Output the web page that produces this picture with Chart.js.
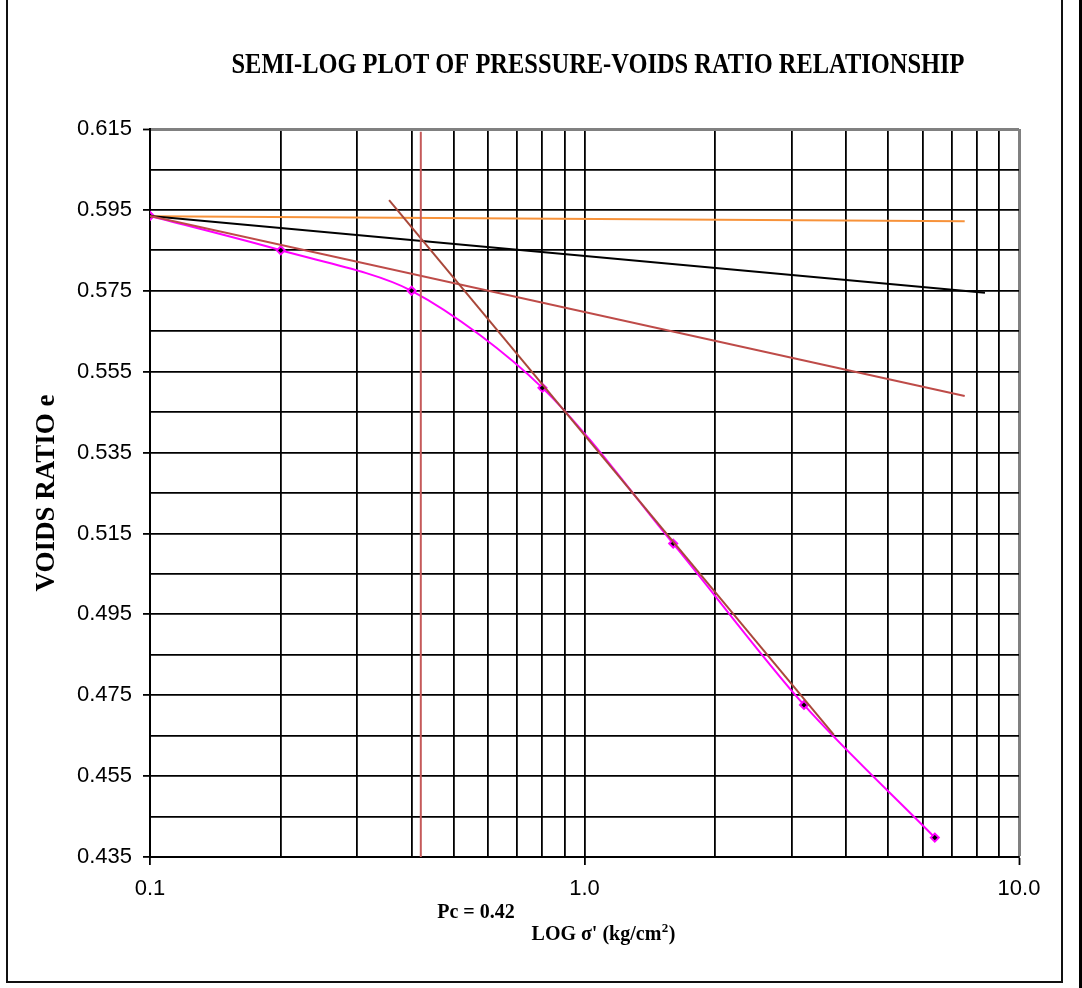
<!DOCTYPE html>
<html>
<head>
<meta charset="utf-8">
<style>
  html, body { margin: 0; padding: 0; background: #fff; }
  canvas { display: block; }
</style>
<script src="https://cdn.jsdelivr.net/npm/chart.js@4.4.1/dist/chart.umd.min.js"></script>
</head>
<body>
<canvas id="c" width="1082" height="988"></canvas>
<script>
// Oedometer test: effective pressure (kg/cm2) and voids ratio
const pressure = [0.1, 0.2, 0.4, 0.8, 1.6, 3.2, 6.4];
const voidsRatio = [0.5935, 0.585, 0.575, 0.551, 0.5125, 0.4726, 0.4398];

// Casagrande construction lines
const horizX = [0.1, 7.5];
const horizY = [0.5934, 0.5922];
const tangentX = [0.1, 8.35];
const tangentY = [0.5935, 0.5745];
const bisectorX = [0.1, 7.5];
const bisectorY = [0.5935, 0.549];
const virginX = [0.355, 3.75];
const virginY = [0.5974, 0.4652];
const pcX = [0.42, 0.42];
const pcY = [0.6143, 0.435];

// Axis ticks
const xTickValues = [0.1, 0.2, 0.3, 0.4, 0.5, 0.6, 0.7, 0.8, 0.9, 1, 2, 3, 4, 5, 6, 7, 8, 9, 10];
const xTickLabels = { 0.1: '0.1', 1: '1.0', 10: '10.0' };
const yTickValues = [];
for (let i = 0; i <= 18; i++) yTickValues.push(+(0.435 + i * 0.01).toFixed(3));

const pts = (xs, ys) => xs.map((x, i) => ({ x: x, y: ys[i] }));

const lineDs = (xs, ys, color, width, order) => ({
  data: pts(xs, ys),
  borderColor: color,
  borderWidth: width,
  pointRadius: 0,
  fill: false,
  tension: 0,
  order: order
});

// Frame, titles and annotations drawn on the canvas
const decorations = {
  id: 'decorations',
  afterDraw(chart) {
    const ctx = chart.ctx;
    ctx.save();
    // outer frame
    ctx.strokeStyle = '#111';
    ctx.lineWidth = 2;
    ctx.beginPath();
    ctx.moveTo(7, 0);
    ctx.lineTo(7, 982);
    ctx.lineTo(1062, 982);
    ctx.lineTo(1062, 0);
    ctx.stroke();
    ctx.fillStyle = '#000';
    ctx.fillRect(1079, 0, 3, 988);

    // chart title, set condensed
    const title = 'SEMI-LOG PLOT OF PRESSURE-VOIDS RATIO RELATIONSHIP';
    ctx.font = 'bold 30px "Liberation Serif", "Times New Roman", serif';
    const tw = ctx.measureText(title).width;
    const targetW = 733;
    ctx.save();
    ctx.translate(598, 65);
    ctx.scale(targetW / tw, 1);
    ctx.textAlign = 'center';
    ctx.textBaseline = 'middle';
    ctx.fillText(title, 0, 0);
    ctx.restore();

    // y axis title
    ctx.save();
    ctx.translate(47, 493);
    ctx.rotate(-Math.PI / 2);
    ctx.font = 'bold 27px "Liberation Serif", "Times New Roman", serif';
    ctx.textAlign = 'center';
    ctx.textBaseline = 'middle';
    ctx.fillText('VOIDS RATIO e', 0, 0);
    ctx.restore();

    // preconsolidation pressure label
    ctx.font = 'bold 20px "Liberation Serif", "Times New Roman", serif';
    ctx.textAlign = 'center';
    ctx.textBaseline = 'middle';
    ctx.fillText('Pc = 0.42', 476, 913);

    // x axis title with superscript
    const mainFont = 'bold 20px "Liberation Serif", "Times New Roman", serif';
    const supFont = 'bold 13px "Liberation Serif", "Times New Roman", serif';
    const p1 = "LOG \u03C3' (kg/cm", p2 = '2', p3 = ')';
    ctx.font = mainFont;
    const w1 = ctx.measureText(p1).width, w3 = ctx.measureText(p3).width;
    ctx.font = supFont;
    const w2 = ctx.measureText(p2).width;
    let x = 603 - (w1 + w2 + w3) / 2;
    ctx.textAlign = 'left';
    ctx.textBaseline = 'alphabetic';
    ctx.font = mainFont;
    ctx.fillText(p1, x, 940);
    x += w1;
    ctx.font = supFont;
    ctx.fillText(p2, x + 0.5, 932);
    x += w2 + 1;
    ctx.font = mainFont;
    ctx.fillText(p3, x, 940);
    ctx.restore();
  }
};

new Chart(document.getElementById('c'), {
  type: 'line',
  data: {
    datasets: [
      {
        data: pts(pressure, voidsRatio),
        borderColor: '#FF00FF',
        borderWidth: 2,
        tension: 0.3,
        fill: false,
        pointStyle: 'rectRot',
        pointRadius: 4,
        pointBackgroundColor: '#000',
        pointBorderColor: '#FF00FF',
        pointBorderWidth: 2,
        order: 5
      },
      lineDs(horizX, horizY, '#F7923A', 2, 4),
      lineDs(tangentX, tangentY, '#000000', 2, 3),
      lineDs(bisectorX, bisectorY, '#BE4B48', 2, 2),
      lineDs(virginX, virginY, '#A9483A', 2, 1),
      lineDs(pcX, pcY, '#C55A5A', 2, 0)
    ]
  },
  options: {
    responsive: false,
    animation: false,
    events: [],
    layout: { padding: { top: 129, right: 63, left: 0, bottom: 0 } },
    plugins: {
      legend: { display: false },
      tooltip: { enabled: false },
      title: { display: false }
    },
    scales: {
      x: {
        type: 'logarithmic',
        min: 0.1,
        max: 10,
        afterBuildTicks(scale) {
          scale.ticks = xTickValues.map(v => ({ value: v }));
        },
        afterFit(scale) { scale.height = 131; },
        border: { display: true, color: '#000', width: 2 },
        grid: {
          color: ctx => (ctx.tick && ctx.tick.value === 10 ? '#808080' : '#000'),
          lineWidth: ctx => (ctx.tick && ctx.tick.value === 10 ? 3 : 1.8),
          drawTicks: true,
          tickLength: 8,
          tickColor: ctx => (ctx.tick && xTickLabels[ctx.tick.value] ? '#000' : 'rgba(0,0,0,0)'),
          tickWidth: 1.8
        },
        ticks: {
          autoSkip: false,
          maxRotation: 0,
          minRotation: 0,
          padding: 11,
          color: '#000',
          font: { family: '"Liberation Sans", Arial, sans-serif', size: 22 },
          callback: v => xTickLabels[v] || ''
        }
      },
      y: {
        type: 'linear',
        min: 0.435,
        max: 0.615,
        afterBuildTicks(scale) {
          scale.ticks = yTickValues.map(v => ({ value: v }));
        },
        afterFit(scale) { scale.width = 150; },
        border: { display: true, color: '#000', width: 2 },
        grid: {
          color: ctx => (ctx.tick && Math.abs(ctx.tick.value - 0.615) < 1e-6 ? '#808080' : '#000'),
          lineWidth: ctx => (ctx.tick && Math.abs(ctx.tick.value - 0.615) < 1e-6 ? 3 : 1.8),
          drawTicks: true,
          tickLength: 7,
          tickColor: ctx => (ctx.index % 2 === 0 ? '#000' : 'rgba(0,0,0,0)'),
          tickWidth: 1.8
        },
        ticks: {
          autoSkip: false,
          padding: 11,
          color: '#000',
          font: { family: '"Liberation Sans", Arial, sans-serif', size: 22 },
          callback: (v, i) => (i % 2 === 0 ? v.toFixed(3) : '')
        }
      }
    }
  },
  plugins: [decorations]
});
</script>
</body>
</html>
